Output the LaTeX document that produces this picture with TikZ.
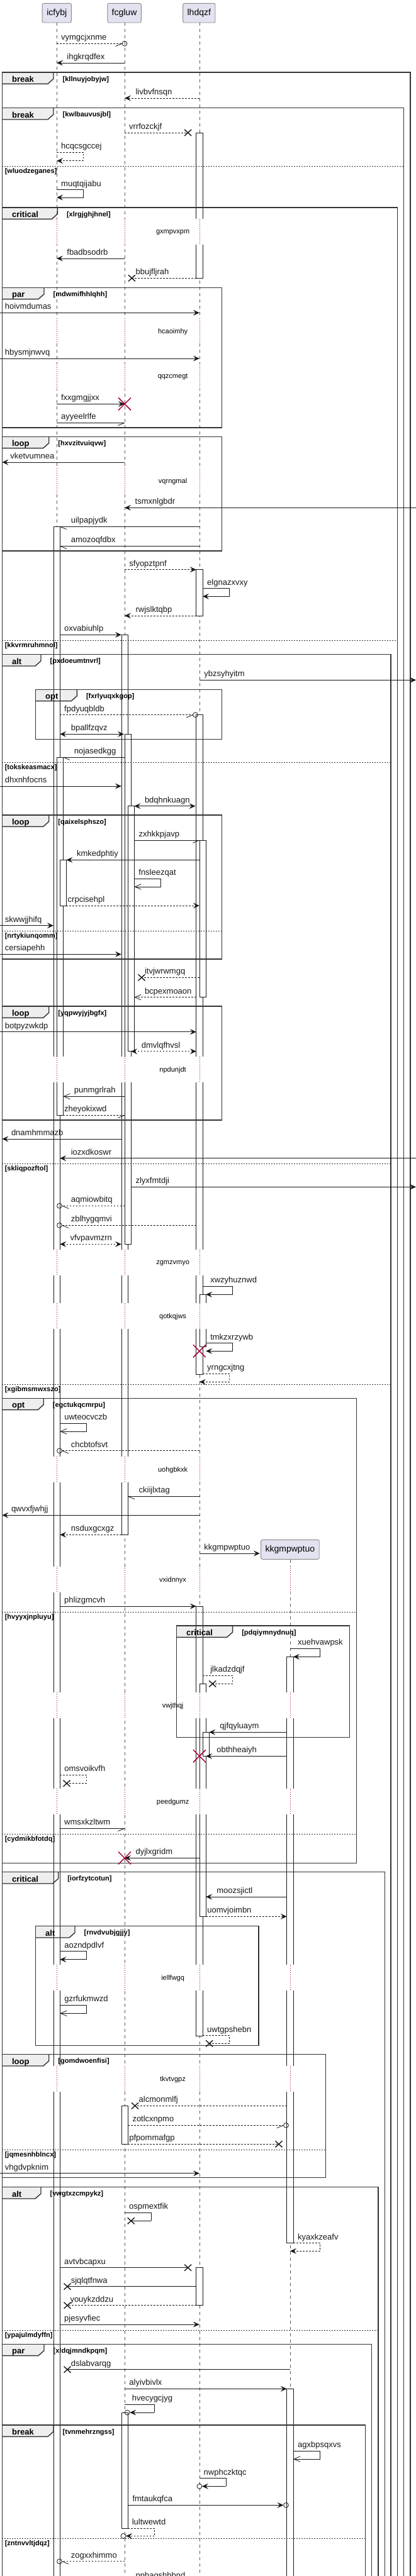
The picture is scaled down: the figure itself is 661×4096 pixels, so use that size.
\documentclass[tikz,border=0pt]{standalone}
\usepackage{fontspec}
\setmainfont{Liberation Sans}
\usetikzlibrary{arrows.meta}
\definecolor{ink}{RGB}{24,24,24}
\definecolor{partfill}{RGB}{226,226,240}
\definecolor{partline}{RGB}{140,140,140}
\definecolor{tabfill}{RGB}{238,238,238}
\definecolor{crim}{RGB}{168,0,54}
\definecolor{lifec}{RGB}{90,90,90}
\newcommand\xa{90.1}
\newcommand\xb{198}
\newcommand\xc{316.9}
\newcommand\xd{460.9}
% heads
\newcommand\hdF[2]{\draw[#2,fh] (#1a) -- (#1b);}
\newcommand\hdBB[2]{\draw[#2,bh] (#1a) -- (#1b);}
\newcommand\hdO[2]{\draw[#2,oh] (#1a) -- (#1b);}
\newcommand\hdH[2]{\draw[#2] (#1a) -- (#1b); \draw[barb] (#1b) -- ++(\bx,4.3);}
\newcommand\hdFC[2]{\draw[#2,fh,shorten >=4pt] (#1a) -- (#1b); \draw[barb] (#1b) circle[radius=3.9pt];}
\newcommand\hdHC[2]{\draw[#2,shorten >=4pt] (#1a) -- (#1b); \draw[barb] (#1b) ++(\cx,0) -- ++(\bx,4.3); \draw[barb] (#1b) circle[radius=3.9pt];}
\newcommand\hdX[2]{\draw[#2] (#1a) -- (#1b); \draw[xh] (#1b) ++(-5.5,-5) -- ++(11,10); \draw[xh] (#1b) ++(-5.5,5) -- ++(11,-10);}
\newcommand\hdRX[2]{\draw[#2,fh] (#1a) -- (#1b); \draw[rxh] (#1b) ++(-10,-10) -- ++(20,20); \draw[rxh] (#1b) ++(-10,10) -- ++(20,-20);}
% message: name, y, x1, x2, line, head, label x, label
\newcommand\msg[8]{%
 \coordinate (#1a) at (#3,#2);
 \coordinate (#1b) at (#4,#2);
 \pgfmathsetmacro\bx{(#4>#3)?-10.6:10.6}%
 \pgfmathsetmacro\cx{(#4>#3)?-4:4}%
 \csname hd#6\endcsname{#1}{#5}%
 \node[lbl] (#1t) at (#7,#2-5.5) {#8};
}
% self message: name, y1, y2, x0, xr, xend, line, head, label
\newcommand\selfm[9]{%
 \coordinate (#1s) at (#4,#2);
 \coordinate (#1r) at (#5,#2);
 \coordinate (#1a) at (#5,#3);
 \coordinate (#1b) at (#6,#3);
 \draw[#7] (#1s) -- (#1r) -- (#1a);
 \def\bx{10.6}\def\cx{4}%
 \csname hd#8\endcsname{#1}{#7}%
 \node[lbl] (#1t) at (#5-35.5,#2-5.5) {#9};
}
\newcommand\redx[3]{\coordinate (#1) at (#2,#3); \draw[rxh] (#1) ++(-10,-10) -- ++(20,20); \draw[rxh] (#1) ++(-10,10) -- ++(20,-20);}
\newcommand\delay[4]{%
 \foreach \lx in {#4} {\fill[white] (\lx-17,#2-21.5) rectangle (\lx+17,#2+19.5); \draw[dly] (\lx,#2-21.5) -- (\lx,#2+19.5);}
 \node[dlyf] (#1) at (274.6,#2) {#3};
}
\newcommand\tabf[3]{\fill[tabfill] (#1,#2) -- (#3,#2) -- (#3,#2+10.3) -- (#3-9,#2+18.3) -- (#1,#2+18.3) -- cycle;}
\newcommand\frm[8]{%
 \draw[frml] (#2,#3) rectangle (#4,#5);
 \draw[frml] (#2,#3+18.3) -- (#6-9,#3+18.3) -- (#6,#3+10.3) -- (#6,#3);
 \node[kindf] (#1k) at (#2+15.5,#3+15.5) {#7};
 \node[grdf] (#1g) at (#6+14.5,#3+14) {[#8]};
}
\newcommand\sepr[5]{\draw[sepl] (#2,#4) -- (#3,#4); \node[grdf] (#1) at (#2+4.2,#4+11) {[#5]};}
\newcommand\act[5]{\draw[actb] (#2,#3) rectangle (#4,#5); \coordinate (#1) at (#2,#3);}
\begin{document}
\begin{tikzpicture}[x=1pt,y=-1pt,
 lbl/.style={font=\fontsize{13}{15}\selectfont, inner sep=0pt, anchor=base west, text=ink},
 kindf/.style={font=\bfseries\fontsize{13}{15}\selectfont, inner sep=0pt, anchor=base west},
 grdf/.style={font=\bfseries\fontsize{11}{13}\selectfont, inner sep=0pt, anchor=base west},
 dlyf/.style={font=\fontsize{11}{13}\selectfont, inner sep=0pt},
 part/.style={draw=partline, fill=partfill, rounded corners=2.5pt, line width=0.9pt, font=\fontsize{14}{16}\selectfont, inner sep=0pt},
 sol/.style={draw=ink, line width=0.8pt},
 dsh/.style={draw=ink, line width=0.8pt, dash pattern=on 2.5pt off 2.5pt},
 fh/.style={-{Stealth[length=10pt,width=9pt,inset=4pt]}},
 bh/.style={{Stealth[length=10pt,width=9pt,inset=4pt]}-{Stealth[length=10pt,width=9pt,inset=4pt]}},
 oh/.style={-{Straight Barb[length=10pt,width=8.6pt]}},
 barb/.style={draw=ink, line width=0.8pt, solid},
 xh/.style={draw=ink, line width=1.4pt, solid},
 rxh/.style={draw=crim, line width=1.5pt, solid},
 life/.style={draw=lifec, line width=0.8pt, dash pattern=on 5pt off 5pt},
 actb/.style={draw=ink, fill=white, line width=0.8pt},
 dly/.style={draw=crim, line width=0.8pt, dash pattern=on 0.8pt off 2.2pt},
 frml/.style={draw=black!80, line width=1.4pt},
 sepl/.style={draw=black!80, line width=0.8pt, dash pattern=on 2pt off 2pt}]
\useasboundingbox (0,0) rectangle (661,4096);
\clip (0,0) rectangle (661,4096);
\fill[white] (0,0) rectangle (661,4096);
% ---- tab fills
\tabf{3.4}{115}{85}
\tabf{3.4}{171.7}{85}
\tabf{3.4}{330}{91.3}
\tabf{3.4}{457.3}{70}
\tabf{3.4}{694.3}{77.7}
\tabf{3.4}{1040.7}{65}
\tabf{56.5}{1096.3}{122.3}
\tabf{3.4}{1296}{77.7}
\tabf{3.4}{1600}{77.7}
\tabf{3.4}{2223.3}{69.2}
\tabf{280.4}{2585}{369.6}
\tabf{3.4}{2976.7}{92.6}
\tabf{56.5}{3062.7}{119}
\tabf{3.4}{3266.7}{77.7}
\tabf{3.4}{3477.7}{65}
\tabf{3.4}{3727.3}{70}
\tabf{3.4}{3856}{85}
% ---- lifelines
\node[part, minimum width=46.3pt, minimum height=30.7pt] (icfybj) at (90.25,20.65) {icfybj};
\node[part, minimum width=53.5pt, minimum height=30.7pt] (fcgluw) at (197.55,20.65) {fcgluw};
\node[part, minimum width=51.4pt, minimum height=30.7pt] (lhdqzf) at (316.3,20.65) {lhdqzf};
\coordinate (la) at (\xa,4200); \coordinate (lb) at (\xb,4200); \coordinate (lc) at (\xc,4200); \coordinate (ld) at (\xd,4200);
\draw[life] (icfybj.south) -- (icfybj.south |- la);
\draw[life] (fcgluw.south -| lb) -- (lb);
\draw[life] (lhdqzf.south -| lc) -- (lc);
\node[part, minimum width=92.6pt, minimum height=31pt] (kkgmp) at (460.9,2463.8) {kkgmpwptuo};
\draw[life] (kkgmp.south) -- (ld);
% ---- activations
\act{aa1}{85}{837.3}{95.2}{4200}
\act{aa2}{90.1}{1204}{100.3}{1773.3}
\act{aa3}{95.2}{1367.3}{105.4}{1440}
\act{ab1}{192.9}{1009.3}{203.1}{2440.3}
\act{ab2}{198}{1167.3}{208.2}{1978.3}
\act{ab3}{203.1}{1281.7}{213.3}{1671.7}
\act{ab4}{192.9}{3348.3}{203.1}{3409.3}
\act{ab5}{192.9}{3836.7}{203.1}{4020}
\act{ac1}{311.8}{211}{322}{442.3}
\act{ac2}{311.8}{905.7}{322}{979}
\act{ac3}{311.8}{1136.7}{322}{2185}
\act{ac4}{316.9}{1336}{327.1}{1585.7}
\act{ac5}{316.9}{2058.3}{327.1}{2141}
\act{ac6}{311.8}{2554}{322}{3237.3}
\act{ac7}{316.9}{2677.3}{327.1}{3047.3}
\act{ac8}{322}{2754.3}{332.2}{2792.3}
\act{ac9}{311.8}{3605.7}{322}{3665.7}
\act{ad1}{455.8}{2634.3}{466}{3566.7}
\act{ad2}{455.8}{3798.3}{466}{4200}
% ---- delays
\delay{d1}{369.3}{gxmpvxpm}{\xa,\xb,\xc}
\delay{d2}{527.3}{hcaoimhy}{\xa,\xb,\xc}
\delay{d3}{599.3}{qqzcmegt}{\xa,\xb,\xc}
\delay{d4}{765.7}{vqrngmal}{\xa,\xb,\xc}
\delay{d5}{1701.7}{npdunjdt}{\xa,\xb,\xc}
\delay{d6}{2008.3}{zgmzvmyo}{\xa,\xb,\xc}
\delay{d7}{2093.3}{qotkqjws}{\xa,\xb,\xc}
\delay{d8}{2337.3}{uohgbkxk}{\xa,\xb,\xc}
\delay{d9}{2512.3}{vxidnnyx}{\xa,\xb,\xc,\xd}
\delay{d10}{2712.3}{vwjthqj}{\xa,\xb,\xc,\xd}
\delay{d11}{2865.7}{peedgumz}{\xa,\xb,\xc,\xd}
\delay{d12}{3145.7}{iellfwgq}{\xa,\xb,\xc,\xd}
\delay{d13}{3306.7}{tkvtvgpz}{\xa,\xb,\xc,\xd}
% ---- frames
\frm{f1}{3.4}{115}{652}{4200}{85}{break}{kllnuyjobyjw}
\frm{f2}{3.4}{171.7}{641.5}{4200}{85}{break}{kwlbauvusjbl}
\sepr{s2}{3.4}{641.5}{264.3}{wluodzeganes}
\frm{f3}{3.4}{330}{631.7}{4200}{91.3}{critical}{xlrgjghjhnel}
\sepr{s3}{3.4}{631.7}{1018.3}{kkvrmruhmnol}
\frm{f4}{3.4}{457.3}{352.6}{680}{70}{par}{mdwmifhhlqhh}
\frm{f5}{3.4}{694.3}{352.6}{876}{77.7}{loop}{hxvzitvuiqvw}
\frm{f6}{3.4}{1040.7}{621}{4200}{65}{alt}{pxdoeumtnvrl}
\sepr{s6a}{3.4}{621}{1212.7}{tokskeasmacx}
\sepr{s6b}{3.4}{621}{1850}{skliqpozftol}
\sepr{s6c}{3.4}{621}{2201.7}{xgibmsmwxszo}
\frm{f7}{56.5}{1096.3}{352.6}{1175.7}{122.3}{opt}{fxrlyuqxkgop}
\frm{f8}{3.4}{1296}{352.6}{1525}{77.7}{loop}{qaixelsphszo}
\sepr{s8}{3.4}{352.6}{1480}{nrtykiunqomm}
\frm{f9}{3.4}{1600}{352.6}{1781}{77.7}{loop}{yqpwyjyjbgfx}
\frm{f10}{3.4}{2223.3}{566.3}{2962.3}{69.2}{opt}{egctukqcmrpu}
\sepr{s10a}{3.4}{566.3}{2563.3}{hvyyxjnpluyu}
\sepr{s10b}{3.4}{566.3}{2916.7}{cydmikbfotdq}
\frm{f11}{280.4}{2585}{555.6}{2762.3}{369.6}{critical}{pdqiymnydnuq}
\frm{f12}{3.4}{2976.7}{611.7}{4200}{92.6}{critical}{iorfzytcotun}
\frm{f13}{56.5}{3062.7}{410.8}{3252.3}{119}{alt}{rnvdvubjgjjy}
\frm{f14}{3.4}{3266.7}{517.4}{3462.7}{77.7}{loop}{gomdwoenfisi}
\sepr{s14}{3.4}{517.4}{3418.3}{jqmesnhblncx}
\frm{f15}{3.4}{3477.7}{601}{4200}{65}{alt}{vwgtxzcmpykz}
\sepr{s15}{3.4}{601}{3705}{ypajulmdyffn}
\frm{f16}{3.4}{3727.3}{590.5}{4200}{70}{par}{xldqjmndkpqm}
\frm{f17}{3.4}{3856}{580.7}{4200}{85}{break}{tvnmehrzngss}
\sepr{s17}{3.4}{580.7}{4036}{zntnvvltjdqz}
% ---- messages
\msg{m1}{69.3}{\xa}{\xb}{dsh}{HC}{96.9}{vymgcjxnme}
\msg{m2}{100}{\xb}{\xa}{sol}{F}{106.2}{ihgkrqdfex}
\msg{m3}{156}{\xc}{\xb}{dsh}{F}{215.4}{livbvfnsqn}
\msg{m4}{211}{\xb}{298.6}{dsh}{X}{205}{vrrfozckjf}
\selfm{m5}{242.3}{255.7}{\xa}{132.5}{\xa}{dsh}{F}{hcqcsgccej}
\selfm{m6}{301.7}{314}{\xa}{132.5}{\xa}{sol}{F}{muqtqijabu}
\msg{m8}{411}{\xb}{\xa}{sol}{F}{106.2}{fbadbsodrb}
\msg{m9}{442.3}{311.8}{209.4}{dsh}{X}{215.4}{bbujfljrah}
\msg{m10}{497.3}{0}{\xc}{sol}{F}{7.6}{hoivmdumas}
\msg{m12}{570}{0}{\xc}{sol}{F}{7.6}{hbysmjnwvq}
\msg{m14}{642.3}{\xa}{\xb}{sol}{RX}{96.9}{fxxgmgjjxx}
\msg{m15}{672.3}{\xa}{\xb}{sol}{H}{96.9}{ayyeelrlfe}
\msg{m16}{735}{\xb}{3.4}{sol}{F}{16.1}{vketvumnea}
\msg{m18}{807.3}{661}{\xb}{sol}{F}{214.5}{tsmxnlgbdr}
\msg{m19}{837.3}{\xc}{95.2}{sol}{H}{112.6}{uilpapjydk}
\msg{m20}{868.3}{\xc}{95.2}{sol}{H}{112.6}{amozoqfdbx}
\msg{m21}{905.7}{\xb}{311.8}{dsh}{F}{205.2}{sfyopztpnf}
\selfm{m22}{935.7}{948.3}{322}{364.5}{322}{sol}{F}{elgnazxvxy}
\msg{m23}{979}{311.8}{\xb}{dsh}{F}{215.4}{rwjslktqbp}
\msg{m24}{1009.3}{95.2}{192.9}{sol}{F}{102}{oxvabiuhlp}
\msg{m25}{1081.3}{\xc}{661}{sol}{F}{324.1}{ybzsyhyitm}
\msg{m26}{1136.7}{95.2}{310.5}{dsh}{HC}{102}{fpdyuqbldb}
\msg{m27}{1167.3}{95.2}{197}{sol}{BB}{112.6}{bpallfzqvz}
\msg{m28}{1204}{\xb}{100.3}{sol}{H}{117.7}{nojasedkgg}
\msg{m29}{1250}{0}{192.9}{sol}{F}{7.6}{dhxnhfocns}
\msg{m30}{1281.7}{213.3}{310.5}{sol}{BB}{229.8}{bdqhnkuagn}
\msg{m31}{1336}{213.3}{316.9}{sol}{H}{220.5}{zxhkkpjavp}
\msg{m32}{1367.3}{316.9}{105.4}{sol}{F}{121.9}{kmkedphtiy}
\selfm{m33}{1397.3}{1410}{213.3}{255.7}{213.3}{sol}{O}{fnsleezqat}
\msg{m34}{1440}{105.4}{316.9}{dsh}{F}{107.5}{crpcisehpl}
\msg{m35}{1471.7}{0}{85}{sol}{F}{7.6}{skwwjjhifq}
\msg{m36}{1517.3}{0}{192.9}{sol}{F}{7.6}{cersiapehh}
\msg{m37}{1554.3}{316.9}{225}{dsh}{X}{229.8}{itvjwrwmgq}
\msg{m38}{1585.7}{311.8}{213.3}{dsh}{O}{229.8}{bcpexmoaon}
\msg{m39}{1640.7}{0}{311.8}{sol}{F}{7.6}{botpyzwkdp}
\msg{m40}{1671.7}{208.2}{311.8}{dsh}{BB}{224.7}{dmvlqfhvsl}
\msg{m42}{1743.3}{\xb}{100.3}{sol}{O}{117.7}{punmgrlrah}
\msg{m43}{1773.3}{100.3}{\xb}{dsh}{H}{102}{zheyokixwd}
\msg{m44}{1811}{192.9}{3.4}{sol}{F}{17.8}{dnamhmmazb}
\msg{m45}{1841.7}{661}{95.2}{sol}{F}{112.6}{iozxdkoswr}
\msg{m46}{1887.3}{208.2}{661}{sol}{F}{215.4}{zlyxfmtdji}
\msg{m47}{1917.3}{\xb}{94.5}{dsh}{HC}{112.6}{aqmiowbitq}
\msg{m48}{1948.3}{311.8}{94.5}{dsh}{HC}{112.6}{zblhygqmvi}
\msg{m49}{1978.3}{95.2}{192.9}{dsh}{BB}{111.3}{vfvpavmzrn}
\selfm{m51}{2045}{2058.3}{322}{369.6}{327.1}{sol}{F}{xwzyhuznwd}
\selfm{m53}{2135.7}{2148.3}{327.1}{369.6}{327.1}{sol}{F}{tmkzxrzywb}
\redx{m53x}{\xc}{2148.3}
\selfm{m54}{2184.3}{2197.3}{322}{364.5}{\xc}{dsh}{F}{yrngcxjtng}
\selfm{m55}{2263.3}{2276}{95.2}{137.6}{95.2}{sol}{O}{uwteocvczb}
\msg{m56}{2306.7}{\xc}{94.5}{dsh}{HC}{112.6}{chcbtofsvt}
\msg{m58}{2379.3}{\xc}{203.1}{sol}{H}{220.5}{ckiijlxtag}
\msg{m59}{2409.3}{\xc}{3.4}{sol}{F}{17.8}{qwvxfjwhjj}
\msg{m60}{2440.3}{192.9}{95.2}{dsh}{F}{112.6}{nsduxgcxgz}
\msg{m61}{2470}{\xc}{412.9}{sol}{F}{324.1}{kkgmpwptuo}
\msg{m63}{2554}{95.2}{311.8}{sol}{F}{102}{phlizgmcvh}
\selfm{m64}{2621.3}{2634.3}{\xd}{508.5}{466}{sol}{F}{xuehvawpsk}
\selfm{m65}{2664.3}{2677.3}{322}{369.6}{337.7}{dsh}{X}{jlkadzdqjf}
\msg{m67}{2754.3}{455.8}{332.2}{sol}{F}{349.2}{qjfqyluaym}
\msg{m68}{2792.3}{455.8}{327.1}{sol}{F}{344.1}{obthheaiyh}
\redx{m68x}{\xc}{2792.3}
\selfm{m69}{2822.3}{2835.7}{95.2}{137.6}{106}{dsh}{X}{omsvoikvfh}
\msg{m71}{2907.3}{95.2}{\xb}{sol}{H}{102}{wmsxkzltwm}
\msg{m72}{2954.3}{316.9}{\xb}{sol}{RX}{215.4}{dyjlxgridm}
\msg{m73}{3016}{455.8}{327.1}{sol}{F}{344.1}{moozsjictl}
\msg{m74}{3047.3}{327.1}{455.8}{dsh}{F}{329.2}{uomvjoimbn}
\selfm{m75}{3102.7}{3115.7}{95.2}{137.6}{95.2}{sol}{F}{aozndpdlvf}
\selfm{m77}{3188.3}{3201.3}{95.2}{137.6}{95.2}{sol}{O}{gzrfukmwzd}
\selfm{m78}{3236.7}{3249.3}{322}{364.5}{332.6}{dsh}{X}{uwtgpshebn}
\msg{m80}{3348.3}{455.8}{214.5}{dsh}{X}{220.5}{alcmonmlfj}
\msg{m81}{3379.3}{203.1}{454.5}{dsh}{HC}{210.3}{zotlcxnpmo}
\msg{m82}{3409.3}{203.1}{443}{dsh}{X}{205.2}{pfpommafgp}
\msg{m83}{3455.7}{0}{\xc}{sol}{F}{7.6}{vhgdvpknim}
\selfm{m84}{3518.3}{3531.3}{\xb}{240.4}{208.2}{sol}{X}{ospmextfik}
\selfm{m85}{3566.7}{3579.3}{466}{508.5}{\xd}{dsh}{F}{kyaxkzeafv}
\msg{m86}{3605.7}{95.2}{298.6}{sol}{X}{102}{avtvbcapxu}
\msg{m87}{3635.7}{311.8}{107}{sol}{X}{112.6}{sjqlqtfnwa}
\msg{m88}{3665.7}{311.8}{107}{dsh}{X}{111.3}{youykzddzu}
\msg{m89}{3696}{95.2}{\xc}{sol}{F}{102}{pjesyvfiec}
\msg{m90}{3767.7}{\xd}{107}{sol}{X}{112.6}{dslabvarqg}
\msg{m91}{3798.3}{\xb}{455.8}{sol}{F}{205.2}{alyivbivlx}
\selfm{m92}{3823.3}{3836}{\xb}{245.1}{202.2}{sol}{FC}{hvecygcjyg}
\selfm{m93}{3897.3}{3910}{466}{508.5}{466}{sol}{O}{agxbpsqxvs}
\selfm{m94}{3940.7}{3953.3}{\xc}{359}{\xc}{sol}{FC}{nwphczktqc}
\msg{m95}{3983.3}{203.1}{454.5}{sol}{FC}{210.3}{fmtaukqfca}
\selfm{m96}{4020}{4032.3}{203.1}{245.1}{196}{dsh}{FC}{lultwewtd}
\msg{m97}{4072.7}{\xb}{94.5}{dsh}{HC}{112.6}{zogxxhimmo}
\node[lbl] (m98t) at (215.4,4099) {pphagshbbnd};
\end{tikzpicture}
\end{document}
